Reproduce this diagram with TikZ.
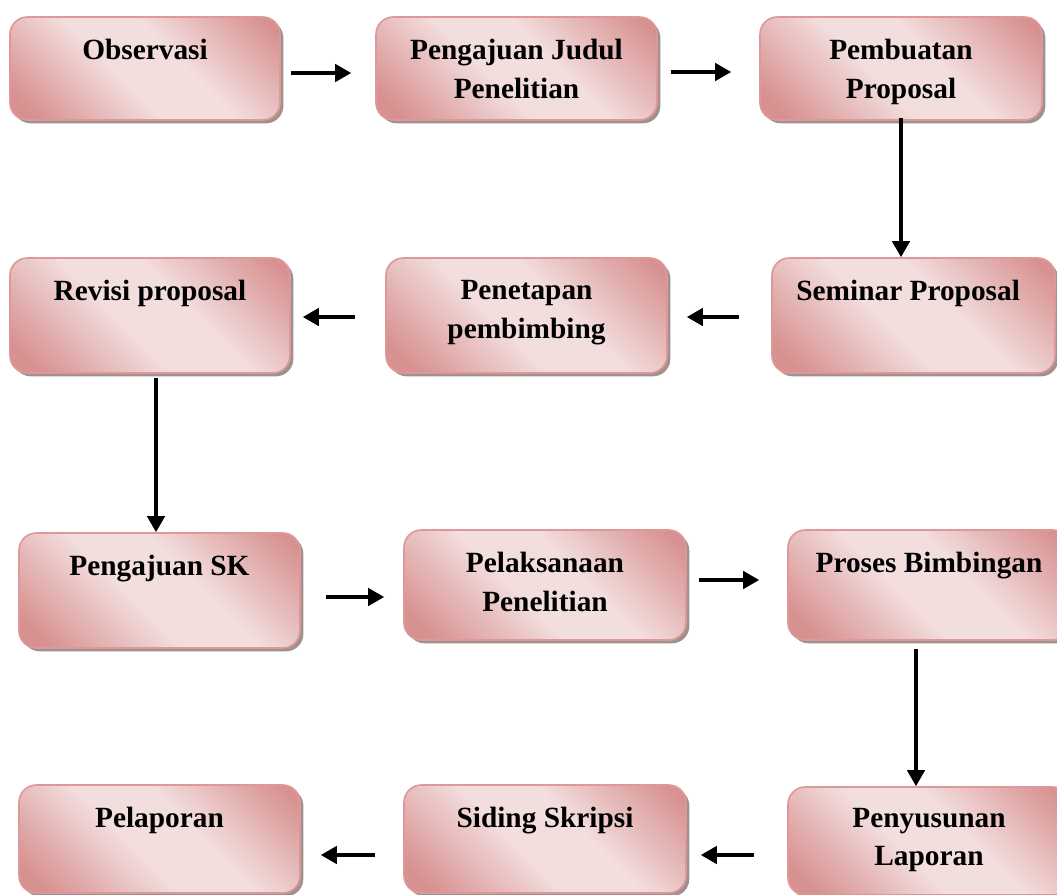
\documentclass[tikz,border=0pt]{standalone}
\usepackage{fontspec}
\setmainfont{Liberation Serif}
\usetikzlibrary{shadows,arrows.meta,positioning}
\definecolor{pdark}{RGB}{215,145,144}
\definecolor{plight}{RGB}{243,222,222}
\definecolor{pborder}{RGB}{222,152,152}
\definecolor{pshadow}{RGB}{160,145,145}
\pgfdeclareverticalshading{pinkgrad}{100bp}{color(0bp)=(pdark); color(20bp)=(pdark); color(44bp)=(plight); color(58bp)=(plight); color(82bp)=(pdark); color(100bp)=(pdark)}
\tikzset{
 box/.style={draw=pborder, line width=1.2pt, rounded corners=13pt, shade, shading=pinkgrad, shading angle=-45,
   drop shadow={shadow xshift=2.5pt, shadow yshift=-2.5pt, fill=pshadow, opacity=1}, inner sep=0pt},
 lbl/.style={font=\fontsize{22}{29}\selectfont\bfseries, align=center, inner sep=0pt},
 arr/.style={line width=2.5pt, -{Triangle[length=12pt,width=13pt]}}
}
\begin{document}
\begin{tikzpicture}[x=0.75pt,y=-0.75pt]
\useasboundingbox (0,0) rectangle (1057,895);
% row 1
\node[box, minimum width=202.5pt, minimum height=77.25pt] (obs) at (145,68.5) {};
\node[box, minimum width=210.75pt, minimum height=77.25pt] (pjd) at (516.5,68.5) {};
\node[box, minimum width=211.5pt, minimum height=77.25pt] (pp) at (901,68.5) {};
% row 2
\node[box, minimum width=210pt, minimum height=86.25pt] (rev) at (150,315.5) {};
\node[box, minimum width=210.75pt, minimum height=86.25pt] (pen) at (526.5,315.5) {};
\node[box, minimum width=212.25pt, minimum height=86.25pt] (sem) at (913.5,315.5) {};
% row 3
\node[box, minimum width=210.75pt, minimum height=86.25pt] (psk) at (159.5,590.5) {};
\node[box, minimum width=211.5pt, minimum height=82.5pt] (pel) at (545,585) {};
\node[box, minimum width=211.5pt, minimum height=82.5pt] (pb) at (929,585) {};
% row 4
\node[box, minimum width=210.75pt, minimum height=81pt] (lap) at (159.5,839) {};
\node[box, minimum width=211.5pt, minimum height=81pt] (sid) at (545,839) {};
\node[box, minimum width=211.5pt, minimum height=81pt] (pys) at (929,841) {};
% labels
\node[lbl, below=17.25pt of obs.north] (obs-t) {Observasi};
\node[lbl, below=17.25pt of pjd.north] (pjd-t) {Pengajuan Judul\\Penelitian};
\node[lbl, below=17.25pt of pp.north] (pp-t) {Pembuatan\\Proposal};
\node[lbl, below=17.25pt of rev.north] (rev-t) {Revisi proposal};
\node[lbl, below=17.25pt of pen.north] (pen-t) {Penetapan\\pembimbing};
\node[lbl, below=17.25pt of sem.north, xshift=-4pt] (sem-t) {Seminar Proposal};
\node[lbl, below=17.25pt of psk.north] (psk-t) {Pengajuan SK};
\node[lbl, below=17.25pt of pel.north] (pel-t) {Pelaksanaan\\Penelitian};
\node[lbl, below=17.25pt of pb.north] (pb-t) {Proses Bimbingan};
\node[lbl, below=17.25pt of lap.north] (lap-t) {Pelaporan};
\node[lbl, below=17.25pt of sid.north] (sid-t) {Siding Skripsi};
\node[lbl, below=16pt of pys.north] (pys-t) {Penyusunan\\Laporan};
% arrows
\draw[arr, shorten <=7.5pt, shorten >=18pt] (obs.east |- 0,73) -- (pjd.west |- 0,73);
\draw[arr, shorten <=9.75pt, shorten >=21pt] (pjd.east |- 0,72) -- (pp.west |- 0,72);
\draw[arr, shorten <=-2pt] (pp.south) -- (pp.south |- sem.north);
\draw[arr, shorten <=24pt, shorten >=14.25pt] (sem.west |- 0,317) -- (pen.east |- 0,317);
\draw[arr, shorten <=22.5pt, shorten >=9pt] (pen.west |- 0,317) -- (rev.east |- 0,317);
\draw[arr, shorten <=3pt] (rev.south -| 156,0) -- (psk.north -| 156,0);
\draw[arr, shorten <=18.75pt, shorten >=14.25pt] (psk.east |- 0,597) -- (pel.west |- 0,597);
\draw[arr, shorten <=9pt, shorten >=21pt] (pel.east |- 0,580) -- (pb.west |- 0,580);
\draw[arr, shorten <=6pt] (pb.south -| 916,0) -- (pys.north -| 916,0);
\draw[arr, shorten <=24.75pt, shorten >=10.5pt] (pys.west |- 0,855) -- (sid.east |- 0,855);
\draw[arr, shorten <=21pt, shorten >=15pt] (sid.west |- 0,855) -- (lap.east |- 0,855);
\end{tikzpicture}
\end{document}
